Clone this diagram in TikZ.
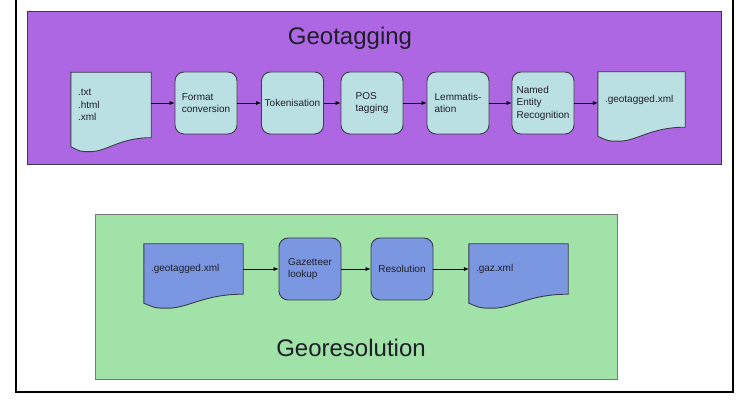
\documentclass[tikz,border=0pt]{standalone}
\usepackage{fontspec}
\setmainfont{Liberation Sans}
\usetikzlibrary{arrows.meta,calc,backgrounds}

% Dokument-Umriss (Welle unten) um einen Knoten
\newcommand{\docoutline}[2]{%
	\draw[boxline,line width=0.9pt,fill=#2] (#1.north west) -- (#1.north east) -- (#1.south east)
	.. controls ($(#1.south west)!0.6!(#1.south east)$) and ($(#1.south west)!0.45!(#1.south east)+(0,14)$) .. ($(#1.south west)!0.24!(#1.south east)+(0,14)$)
	.. controls ($(#1.south west)!0.12!(#1.south east)+(0,14)$) .. ($(#1.south west)+(0,9)$) -- cycle;}

\begin{document}
\begin{tikzpicture}[x=1pt,y=-1pt,
		box/.style={draw=boxline,line width=0.9pt,rounded corners=9pt,minimum width=62pt,minimum height=62pt,inner sep=1pt,align=left,text=textgray,font=\fontsize{10}{12.5}\selectfont},
		doc/.style={inner sep=7pt,align=left,text=textgray,font=\fontsize{10}{12.5}\selectfont},
		title/.style={font=\fontsize{24}{28}\selectfont,anchor=base,text=textgray},
		arr/.style={-{Latex[length=5pt,width=4pt]},line width=0.6pt}]
		\definecolor{boxline}{HTML}{3C3C46}
		\definecolor{textgray}{HTML}{1E1E28}
		\definecolor{purplebg}{HTML}{AE67E2}
		\definecolor{greenbg}{HTML}{A0E2A7}
		\definecolor{lightcyan}{HTML}{BBE0E3}
		\definecolor{bluebox}{HTML}{7B97E2}
		\useasboundingbox (0,0) rectangle (736,411);
		% Rahmen
		\draw[line width=1.2pt] (16,0) -- (16,392) -- (733,392) -- (733,0);
		% Geotagging
		\node[title] (tagtitle) at (350,45) {Geotagging};
		\node[doc,text width=66pt,minimum height=65pt] (in) at (111,105) {.txt\\.html\\.xml};
		\node[box,fill=lightcyan] (fmt) at (206,103) {Format\\conversion};
		\node[box,fill=lightcyan] (tok) at (292.5,103) {Tokenisation};
		\node[box,fill=lightcyan] (pos) at (372,103) {POS\\tagging};
		\node[box,fill=lightcyan] (lem) at (458,103) {Lemmatis-\\ation};
		\node[box,fill=lightcyan] (ner) at (543,103) {Named\\Entity\\Recognition};
		\node[doc,text width=73pt,minimum height=55pt] (out) at (641.5,99.5) {.geotagged.xml};
		% Georesolution
		\node[title] (restitle) at (351,357) {Georesolution};
		\node[doc,text width=85pt,minimum height=50pt] (gin) at (193.5,269) {.geotagged.xml};
		\node[box,fill=bluebox] (lookup) at (310,269) {Gazetteer\\lookup};
		\node[box,fill=bluebox] (res) at (402,269) {Resolution};
		\node[doc,text width=85pt,minimum height=50pt] (gaz) at (518.5,269) {.gaz.xml};
		% Pfeile
		\draw[arr] (in.east |- fmt) -- (fmt);
		\draw[arr] (fmt) -- (tok);
		\draw[arr] (tok) -- (pos);
		\draw[arr] (pos) -- (lem);
		\draw[arr] (lem) -- (ner);
		\draw[arr] (ner) -- (ner -| out.west);
		\draw[arr] (gin) -- (lookup);
		\draw[arr] (lookup) -- (res);
		\draw[arr] (res) -- (gaz);
		% Hintergrund
		\begin{scope}[on background layer]
			\draw[boxline,line width=0.8pt,fill=purplebg] (27,11) rectangle (721,164);
			\draw[boxline!70,line width=0.8pt,fill=greenbg] (95,214) rectangle (617,379);
			\docoutline{in}{lightcyan}
			\docoutline{out}{lightcyan}
			\docoutline{gin}{bluebox}
			\docoutline{gaz}{bluebox}
		\end{scope}
\end{tikzpicture}
\end{document}
